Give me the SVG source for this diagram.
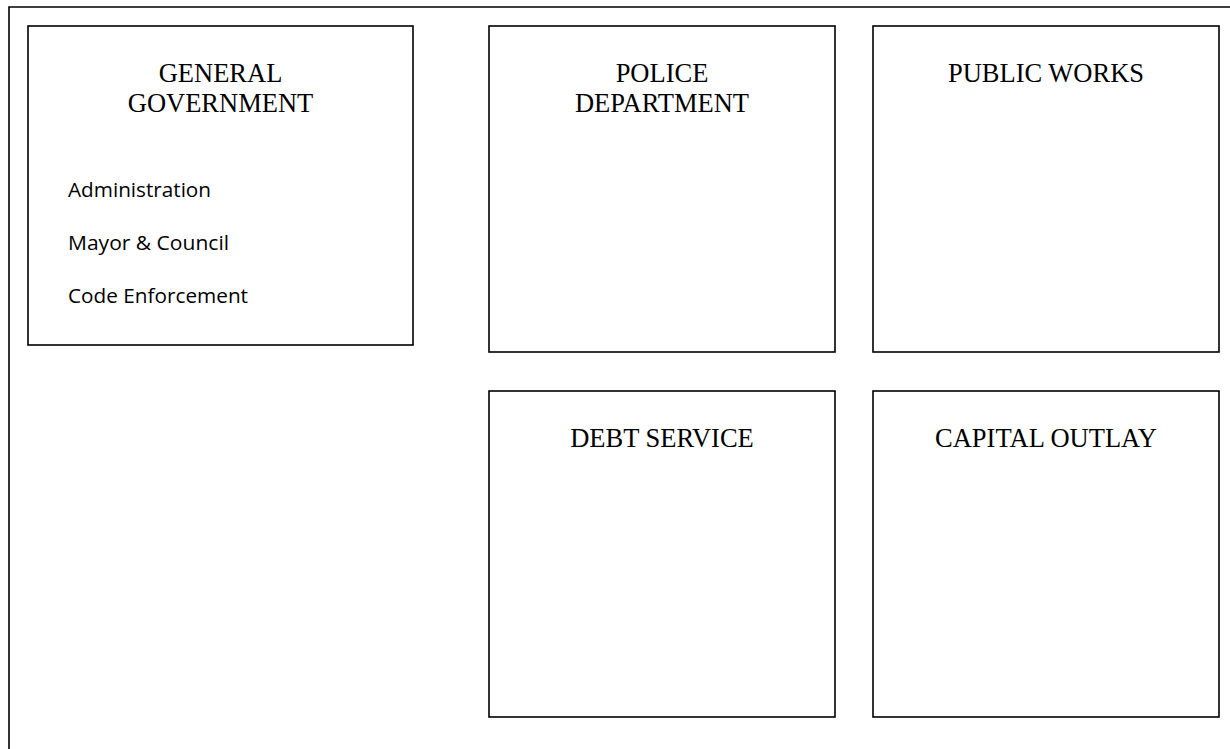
<svg xmlns="http://www.w3.org/2000/svg" width="1230" height="749" viewBox="0 0 1230 749">
<style>
.box{fill:#fff;stroke:#000;stroke-width:1.6}
.frame{fill:none;stroke:#000;stroke-width:1.6}
.title{font-family:"Liberation Serif","Times New Roman",serif;font-size:26.5px;fill:#000;text-anchor:middle}
.item{font-family:"Open Sans","Liberation Sans",sans-serif;font-size:19.5px;fill:#000}
</style>
<rect width="1230" height="749" fill="#fff"/>
<g id="frame">
<path class="frame" d="M9,749 V7 H1230"/>
</g>
<g id="general-government">
<rect class="box" x="28" y="26" width="385" height="319"/>
<text class="title" x="220.5" y="82">GENERAL</text>
<text class="title" x="220.5" y="112">GOVERNMENT</text>
<text class="item" x="68" y="197" textLength="143" lengthAdjust="spacingAndGlyphs">Administration</text>
<text class="item" x="68" y="250" textLength="161" lengthAdjust="spacingAndGlyphs">Mayor &amp; Council</text>
<text class="item" x="68" y="303" textLength="180" lengthAdjust="spacingAndGlyphs">Code Enforcement</text>
</g>
<g id="police-department">
<rect class="box" x="489" y="26" width="346" height="326"/>
<text class="title" x="662" y="82">POLICE</text>
<text class="title" x="662" y="112">DEPARTMENT</text>
</g>
<g id="public-works">
<rect class="box" x="873" y="26" width="346" height="326"/>
<text class="title" x="1046" y="82">PUBLIC WORKS</text>
</g>
<g id="debt-service">
<rect class="box" x="489" y="391" width="346" height="326"/>
<text class="title" x="662" y="447">DEBT SERVICE</text>
</g>
<g id="capital-outlay">
<rect class="box" x="873" y="391" width="346" height="326"/>
<text class="title" x="1046" y="447">CAPITAL OUTLAY</text>
</g>
<g id="connectors"/>
</svg>
